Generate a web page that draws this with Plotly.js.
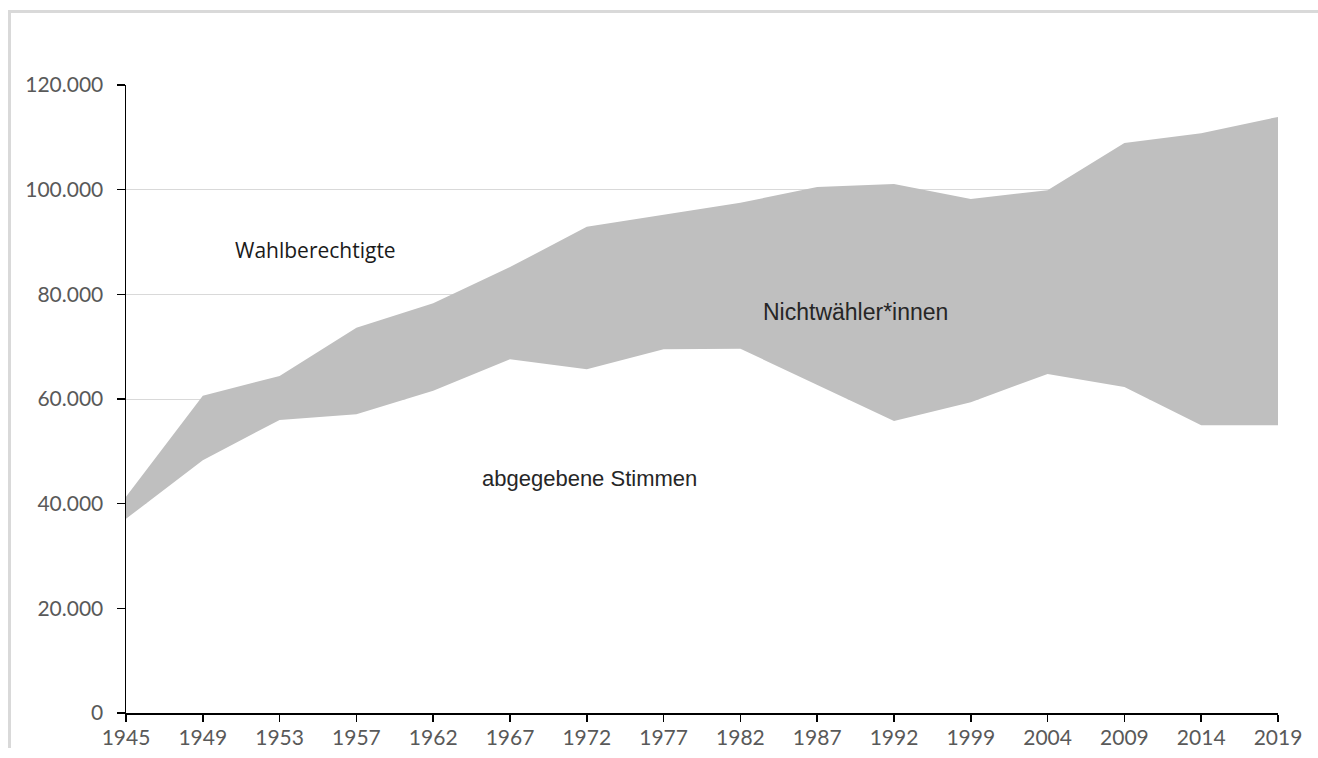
<!DOCTYPE html>
<html>
<head>
<meta charset="utf-8">
<script src="https://cdn.plot.ly/plotly-3.0.1.min.js"></script>
<style>
  html, body { margin: 0; padding: 0; background: #ffffff; overflow: hidden; width: 1318px; height: 758px; }
  #frame { position: absolute; left: 8px; top: 10px; width: 1310px; height: 738px;
           border-top: 3px solid #d9d9d9; border-left: 3px solid #d9d9d9; box-sizing: border-box; }
  #chart { position: absolute; left: 0; top: 0; width: 1318px; height: 758px; }
</style>
</head>
<body>
<div id="frame"></div>
<div id="chart"></div>
<script>
// Wahljahre
const years = ["1945","1949","1953","1957","1962","1967","1972","1977","1982","1987","1992","1999","2004","2009","2014","2019"];
// Wahlberechtigte (obere Kante)
const eligible = [41300, 60600, 64400, 73600, 78300, 85200, 92900, 95200, 97500, 100500, 101100, 98200, 99900, 108900, 110800, 113900];
// abgegebene Stimmen (untere Kante)
const cast = [37100, 48300, 56000, 57100, 61600, 67600, 65700, 69500, 69600, 62700, 55800, 59400, 64800, 62300, 55000, 55000];
// Beschriftungen
const labelEligible = "Wahlberechtigte";
const labelNonVoters = "Nichtwähler*innen";
const labelCast = "abgegebene Stimmen";

const traces = [
  { x: years, y: cast, type: "scatter", mode: "lines", fill: "tozeroy",
    fillcolor: "#ffffff", line: { width: 0, color: "rgba(0,0,0,0)" }, hoverinfo: "skip", showlegend: false },
  { x: years, y: eligible, type: "scatter", mode: "lines", fill: "tonexty",
    fillcolor: "#bfbfbf", line: { width: 0, color: "rgba(0,0,0,0)" }, hoverinfo: "skip", showlegend: false }
];

const tickFont = { family: "Lato, 'Open Sans', sans-serif", size: 21, color: "#595959" };

const layout = {
  width: 1318, height: 758,
  margin: { l: 126, r: 40, t: 85, b: 45 },
  paper_bgcolor: "rgba(0,0,0,0)",
  plot_bgcolor: "rgba(0,0,0,0)",
  separators: ",.",
  showlegend: false,
  xaxis: {
    type: "category", range: [0, years.length - 1],
    showgrid: false, zeroline: false,
    showline: true, linecolor: "#000000", linewidth: 1.5,
    ticks: "outside", ticklen: 7, tickcolor: "#000000", tickwidth: 1.5,
    ticklabelstandoff: -2,
    tickfont: tickFont, fixedrange: true
  },
  yaxis: {
    range: [0, 120000], tickvals: [0, 20000, 40000, 60000, 80000, 100000, 120000],
    tickformat: ",d",
    showgrid: true, gridcolor: "#d9d9d9", gridwidth: 1, zeroline: false,
    showline: true, linecolor: "#000000", linewidth: 1.5,
    ticks: "outside", ticklen: 8, tickcolor: "#000000", tickwidth: 1.5,
    ticklabelstandoff: 9,
    tickfont: tickFont, fixedrange: true
  },
  annotations: [
    { xref: "x", yref: "y", x: 2.47, y: 88500, text: labelEligible, showarrow: false,
      font: { family: "'Open Sans', Lato, sans-serif", size: 21, color: "#1a1a1a" } },
    { xref: "x", yref: "y", x: 9.5, y: 76600, text: labelNonVoters, showarrow: false,
      font: { family: "'Liberation Sans', Arial, sans-serif", size: 23, color: "#262626" } },
    { xref: "x", yref: "y", x: 6.04, y: 44900, text: labelCast, showarrow: false,
      font: { family: "'Liberation Sans', Arial, sans-serif", size: 22, color: "#262626" } }
  ]
};

Plotly.newPlot("chart", traces, layout, { displayModeBar: false, staticPlot: true });
</script>
</body>
</html>
